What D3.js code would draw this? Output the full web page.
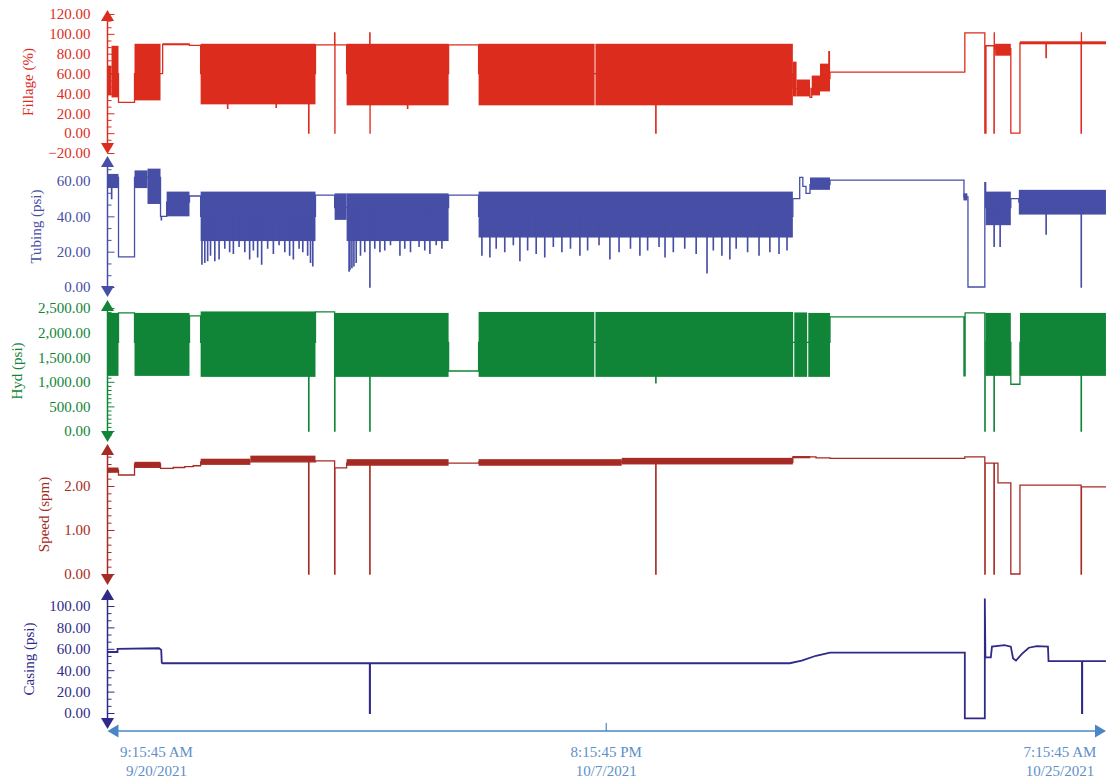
<!DOCTYPE html>
<html>
<head>
<meta charset="utf-8">
<script src="https://cdn.jsdelivr.net/npm/d3@7"></script>
<style>
  body { margin: 0; background: #fff; }
  text { font-family: "Liberation Serif", "Times New Roman", serif; }
</style>
</head>
<body>
<svg id="chart"></svg>
<script>
// time axis, data x values are days since the first sample
const startTime = new Date(2021, 8, 20, 9, 15, 45);
const endTime = new Date(2021, 9, 25, 7, 15, 45);
const timeTicks = [startTime, new Date(2021, 9, 7, 20, 15, 45), endTime];

// Fillage (%): step line [day, value], dense bands [day0, day1, low, high], spikes [day, value]
const fillageLine = [
  [0.00, 60], [0.385, 31], [0.946, 60], [1.93, 89.5], [2.87, 88.5], [3.26, 60],
  [7.28, 89], [8.37, 60], [11.94, 89], [12.99, 60], [23.99, 45], [24.59, 36],
  [24.65, 45], [25.25, 82], [25.27, 55], [25.29, 61.5], [30.01, 101], [30.71, 0],
  [30.75, 88], [31.07, 85], [31.62, 0], [31.94, 91], [34.95, 91]
];
const fillageBands = [
  [0.00, 0.14, 38, 68], [0.14, 0.385, 36, 88], [0.946, 1.856, 33, 90],
  [1.93, 2.87, 88.5, 90.5], [3.26, 7.28, 29, 90], [8.37, 11.94, 28, 90],
  [12.99, 17.05, 28, 90], [17.08, 23.99, 28, 90], [23.99, 24.12, 37, 72],
  [24.12, 24.59, 37, 54], [24.65, 24.94, 38, 58], [24.94, 25.29, 42, 70],
  [31.07, 31.62, 78, 90], [31.94, 34.95, 89.5, 92.5]
];
const fillageSpikes = [
  [4.2, 25], [5.9, 26], [7.04, 0], [7.95, 101], [7.96, 0], [9.18, 101], [9.19, 0],
  [10.5, 25], [19.19, 0], [31.03, 0], [31.04, 101], [32.85, 76], [34.08, 0], [34.09, 101]
];
const fillageTicks = [-20, 0, 20, 40, 60, 80, 100, 120];

// Tubing (psi)
const tubingLine = [
  [0.00, 62], [0.385, 17], [0.946, 62], [1.856, 40], [2.07, 48], [2.87, 51.5],
  [3.26, 40], [7.28, 52], [7.95, 45], [11.94, 52], [12.99, 40], [23.99, 50],
  [24.23, 62], [24.34, 57], [24.45, 53], [24.59, 58], [25.29, 60.5], [29.98, 51],
  [30.12, 0], [30.71, 59], [30.74, 45], [31.62, 50], [31.90, 48], [34.95, 48]
];
const tubingBands = [
  [0.00, 0.385, 56, 64], [0.946, 1.40, 56, 66], [1.40, 1.856, 47, 67],
  [2.07, 2.87, 40, 54], [3.26, 7.28, 26, 54], [7.95, 8.37, 38, 53],
  [8.37, 11.94, 26, 53], [12.99, 23.99, 28, 54], [24.59, 25.29, 55, 62],
  [29.96, 30.10, 49, 53], [30.74, 31.62, 35, 54], [31.90, 34.95, 41, 55]
];
const tubingSpikes = [
  [0.14, 50], [1.88, 38], [3.30, 13], [3.40, 14], [3.50, 15], [3.60, 18], [3.75, 15],
  [3.90, 16], [4.10, 22], [4.27, 20], [4.40, 19], [4.60, 23], [4.80, 20], [4.97, 16],
  [5.10, 21], [5.25, 17], [5.39, 13], [5.60, 22], [5.80, 19], [6.00, 24], [6.20, 20],
  [6.37, 18], [6.50, 16], [6.70, 22], [6.83, 20], [7.00, 18], [7.10, 14], [7.18, 12],
  [8.45, 9], [8.48, 10], [8.55, 11], [8.62, 12], [8.70, 14], [8.85, 18], [9.00, 20],
  [9.18, 0], [9.35, 22], [9.53, 20], [9.70, 21], [9.90, 24], [10.23, 18], [10.40, 22],
  [10.60, 20], [10.90, 23], [11.10, 21], [11.28, 19], [11.50, 24], [11.70, 22],
  [13.10, 18], [13.38, 17], [13.60, 22], [13.90, 20], [14.20, 24], [14.43, 15],
  [14.70, 21], [15.00, 19], [15.30, 17], [15.60, 23], [15.90, 20], [16.20, 22],
  [16.53, 18], [16.80, 21], [17.20, 24], [17.58, 16], [17.90, 20], [18.30, 22],
  [18.63, 18], [18.90, 21], [19.30, 23], [19.51, 17], [19.80, 20], [20.20, 22],
  [20.60, 19], [20.98, 8], [21.20, 21], [21.50, 18], [21.78, 16], [22.00, 22],
  [22.40, 20], [22.80, 18], [23.18, 20], [23.50, 19], [23.78, 21],
  [31.03, 23], [31.24, 23], [32.85, 30], [34.08, 0]
];
const tubingTicks = [0, 20, 40, 60];

// Hyd (psi)
const hydLine = [
  [0.00, 1800], [0.385, 2400], [0.946, 1800], [2.87, 2340], [3.26, 1800], [7.28, 2420],
  [7.95, 1800], [11.94, 1220], [12.99, 1800], [25.29, 2320], [29.98, 1120], [30.02, 2400],
  [30.71, 1800], [31.62, 950], [31.94, 1800], [34.95, 1800]
];
const hydBands = [
  [0.00, 0.385, 1120, 2400], [0.946, 2.87, 1120, 2400], [3.26, 7.28, 1100, 2430],
  [7.95, 11.94, 1100, 2400], [12.99, 17.04, 1100, 2420], [17.08, 24.00, 1100, 2420],
  [24.04, 24.49, 1100, 2410], [24.53, 25.29, 1100, 2400], [30.73, 31.62, 1120, 2400],
  [31.94, 34.95, 1120, 2400]
];
const hydSpikes = [[7.04, 0], [7.95, 0], [9.18, 0], [19.19, 980], [30.71, 0], [31.03, 0], [34.08, 0]];
const hydTicks = [0, 500, 1000, 1500, 2000, 2500];

// Speed (spm)
const speedLine = [
  [0.00, 2.36], [0.385, 2.25], [0.946, 2.50], [1.856, 2.40], [2.30, 2.42], [2.70, 2.44],
  [3.00, 2.46], [3.26, 2.55], [7.28, 2.57], [7.95, 2.41], [8.37, 2.52], [12.99, 2.54],
  [23.99, 2.66], [24.80, 2.64], [25.29, 2.63], [30.01, 2.66], [30.71, 2.52], [31.17, 2.07],
  [31.62, 0], [31.94, 2.02], [34.08, 1.98], [34.95, 1.98]
];
const speedBands = [
  [0.00, 0.385, 2.30, 2.42], [0.946, 1.856, 2.41, 2.55], [3.26, 5.00, 2.48, 2.62],
  [5.00, 7.28, 2.55, 2.69], [8.37, 11.94, 2.46, 2.61], [12.99, 18.00, 2.46, 2.61],
  [18.00, 23.99, 2.49, 2.64], [23.99, 24.60, 2.63, 2.68]
];
const speedSpikes = [[7.04, 0], [7.95, 0], [9.18, 0], [19.19, 0], [30.71, 0], [31.03, 0], [34.08, 0]];
const speedTicks = [0, 1, 2];

// Casing (psi), plain polyline
const casingLine = [
  [0.00, 57], [0.35, 57], [0.35, 60], [1.80, 60.5], [1.88, 59], [1.90, 47], [1.93, 46.5],
  [9.18, 46.5], [9.18, 0], [9.19, 0], [9.19, 46.5], [23.88, 46.5], [24.30, 49],
  [24.80, 53.5], [25.29, 56.5], [30.01, 56.5], [30.01, -5], [30.71, -5], [30.71, 107],
  [30.73, 52], [30.92, 52], [30.96, 62], [31.40, 63.5], [31.62, 62], [31.70, 51],
  [31.80, 49], [32.00, 55], [32.25, 61], [32.53, 62.5], [32.92, 62], [32.94, 48.5],
  [34.11, 48.5], [34.11, 0], [34.12, 0], [34.12, 48.5], [34.95, 48.5]
];
const casingTicks = [0, 20, 40, 60, 80, 100];

const panels = [
  { title: "Fillage (%)", color: "#dc2c1d", line: fillageLine, bands: fillageBands, spikes: fillageSpikes,
    ticks: fillageTicks, minorStep: 20 / 3, ref: [[120, 14], [-20, 153]], tips: [10, 154] },
  { title: "Tubing (psi)", color: "#464ea6", line: tubingLine, bands: tubingBands, spikes: tubingSpikes,
    ticks: tubingTicks, minorStep: 20 / 3, ref: [[60, 181], [0, 287]], tips: [156, 297] },
  { title: "Hyd (psi)", color: "#118537", line: hydLine, bands: hydBands, spikes: hydSpikes,
    ticks: hydTicks, minorStep: 500 / 6, ref: [[2500, 308], [0, 431]], tips: [300, 442] },
  { title: "Speed (spm)", color: "#a62b25", line: speedLine, bands: speedBands, spikes: speedSpikes,
    ticks: speedTicks, minorStep: 1 / 6, ref: [[2, 486], [0, 574]], tips: [444, 585] },
  { title: "Casing (psi)", color: "#2f2a87", line: casingLine, bands: [], spikes: [],
    ticks: casingTicks, minorStep: 20 / 3, ref: [[100, 606], [0, 713]], tips: [589, 729], linear: true, width: 1.8 }
];

const width = 1107, height = 784;
const axisX = 107.5;
const svg = d3.select("#chart").attr("width", width).attr("height", height);

const x = d3.scaleTime().domain([startTime, endTime]).range([axisX, 1105]);
const toDate = d => new Date(+startTime + d * 864e5);

function withSpikes(line, spikes) {
  const valueAt = d => { let v = line[0][1]; line.forEach(p => { if (p[0] <= d) v = p[1]; }); return v; };
  const pts = line.map(p => p.slice());
  spikes.forEach(([d, v]) => pts.push([d, v], [d + 0.012, valueAt(d)]));
  return pts.sort((a, b) => a[0] - b[0]);
}

panels.forEach(p => {
  const y = d3.scaleLinear().domain([p.ref[0][0], p.ref[1][0]]).range([p.ref[0][1], p.ref[1][1]]);
  const g = svg.append("g");

  // dense bands
  g.selectAll("rect.band").data(p.bands).join("rect")
    .attr("class", "band")
    .attr("x", d => x(toDate(d[0])))
    .attr("width", d => x(toDate(d[1])) - x(toDate(d[0])))
    .attr("y", d => y(d[3]))
    .attr("height", d => y(d[2]) - y(d[3]))
    .attr("fill", p.color);

  const line = d3.line()
    .x(d => x(toDate(d[0])))
    .y(d => y(d[1]))
    .curve(p.linear ? d3.curveLinear : d3.curveStepAfter);

  g.append("path")
    .datum(withSpikes(p.line, p.spikes))
    .attr("d", line)
    .attr("fill", "none")
    .attr("stroke", p.color)
    .attr("stroke-width", p.width || 1.3)
    .attr("stroke-linejoin", "miter");

  // axis
  const ax = svg.append("g").attr("color", p.color);
  const vTop = y.invert(p.tips[0] + 6), vBot = y.invert(p.tips[1] - 6);
  const minors = d3.range(Math.ceil(vBot / p.minorStep), Math.floor(vTop / p.minorStep) + 1)
    .map(k => k * p.minorStep)
    .filter(v => !p.ticks.some(t => Math.abs(t - v) < p.minorStep / 10));

  ax.append("g").attr("transform", `translate(${axisX},0)`)
    .call(d3.axisRight(y).tickValues(minors).tickSize(4).tickFormat(""))
    .call(s => s.select(".domain").remove());
  ax.append("g").attr("transform", `translate(${axisX},0)`)
    .call(d3.axisRight(y).tickValues(p.ticks).tickSize(7).tickFormat(""))
    .call(s => s.select(".domain").remove());
  const labels = ax.append("g").attr("transform", `translate(${axisX},0)`)
    .call(d3.axisLeft(y).tickValues(p.ticks).tickSize(0).tickPadding(17).tickFormat(d3.format(",.2f")))
    .call(s => s.select(".domain").remove());
  labels.selectAll("text")
    .attr("font-size", 15)
    .attr("font-family", "'Liberation Serif', 'Times New Roman', serif")
    .attr("fill", p.color);

  ax.append("line")
    .attr("x1", axisX).attr("x2", axisX)
    .attr("y1", p.tips[0] + 4).attr("y2", p.tips[1] - 4)
    .attr("stroke", p.color).attr("stroke-width", 1.5);
  ax.append("path")
    .attr("d", `M${axisX},${p.tips[0]}L${axisX - 6.5},${p.tips[0] + 11}L${axisX + 6.5},${p.tips[0] + 11}Z`)
    .attr("fill", p.color);
  ax.append("path")
    .attr("d", `M${axisX},${p.tips[1]}L${axisX - 6.5},${p.tips[1] - 11}L${axisX + 6.5},${p.tips[1] - 11}Z`)
    .attr("fill", p.color);

  let left = axisX;
  labels.selectAll("text").each(function () { left = Math.min(left, this.getBBox().x + axisX); });
  const yMid = (p.tips[0] + p.tips[1]) / 2;
  svg.append("text")
    .attr("transform", `translate(${left - 21},${yMid}) rotate(-90)`)
    .attr("text-anchor", "middle")
    .attr("dy", "0.35em")
    .attr("font-size", 15)
    .attr("fill", p.color)
    .text(p.title);
});

// time axis
const axisColor = "#4a86c5";
const xAxisY = 731;
const xg = svg.append("g");
xg.append("line")
  .attr("x1", x(startTime) + 4).attr("x2", x(endTime) - 4)
  .attr("y1", xAxisY).attr("y2", xAxisY)
  .attr("stroke", axisColor).attr("stroke-width", 1.5);
xg.append("path")
  .attr("d", `M${x(startTime)},${xAxisY}L${x(startTime) + 11},${xAxisY - 6.5}L${x(startTime) + 11},${xAxisY + 6.5}Z`)
  .attr("fill", axisColor);
xg.append("path")
  .attr("d", `M${x(endTime) + 1},${xAxisY}L${x(endTime) - 10},${xAxisY - 6.5}L${x(endTime) - 10},${xAxisY + 6.5}Z`)
  .attr("fill", axisColor);
xg.selectAll("line.tick").data(timeTicks.slice(1, -1)).join("line")
  .attr("class", "tick")
  .attr("x1", d => x(d)).attr("x2", d => x(d))
  .attr("y1", xAxisY - 8).attr("y2", xAxisY)
  .attr("stroke", axisColor).attr("stroke-width", 1.2);

const fmtTime = d3.timeFormat("%-I:%M:%S %p");
const fmtDate = d3.timeFormat("%-m/%-d/%Y");
const labelShift = [49, 0, -45];
const tl = xg.selectAll("text.tl").data(timeTicks).join("text")
  .attr("class", "tl")
  .attr("text-anchor", "middle")
  .attr("font-size", 15)
  .attr("fill", "#5e8fc7");
tl.append("tspan").attr("x", (d, i) => x(d) + labelShift[i]).attr("y", 757).text(d => fmtTime(d));
tl.append("tspan").attr("x", (d, i) => x(d) + labelShift[i]).attr("y", 776).text(d => fmtDate(d));
</script>
</body>
</html>
